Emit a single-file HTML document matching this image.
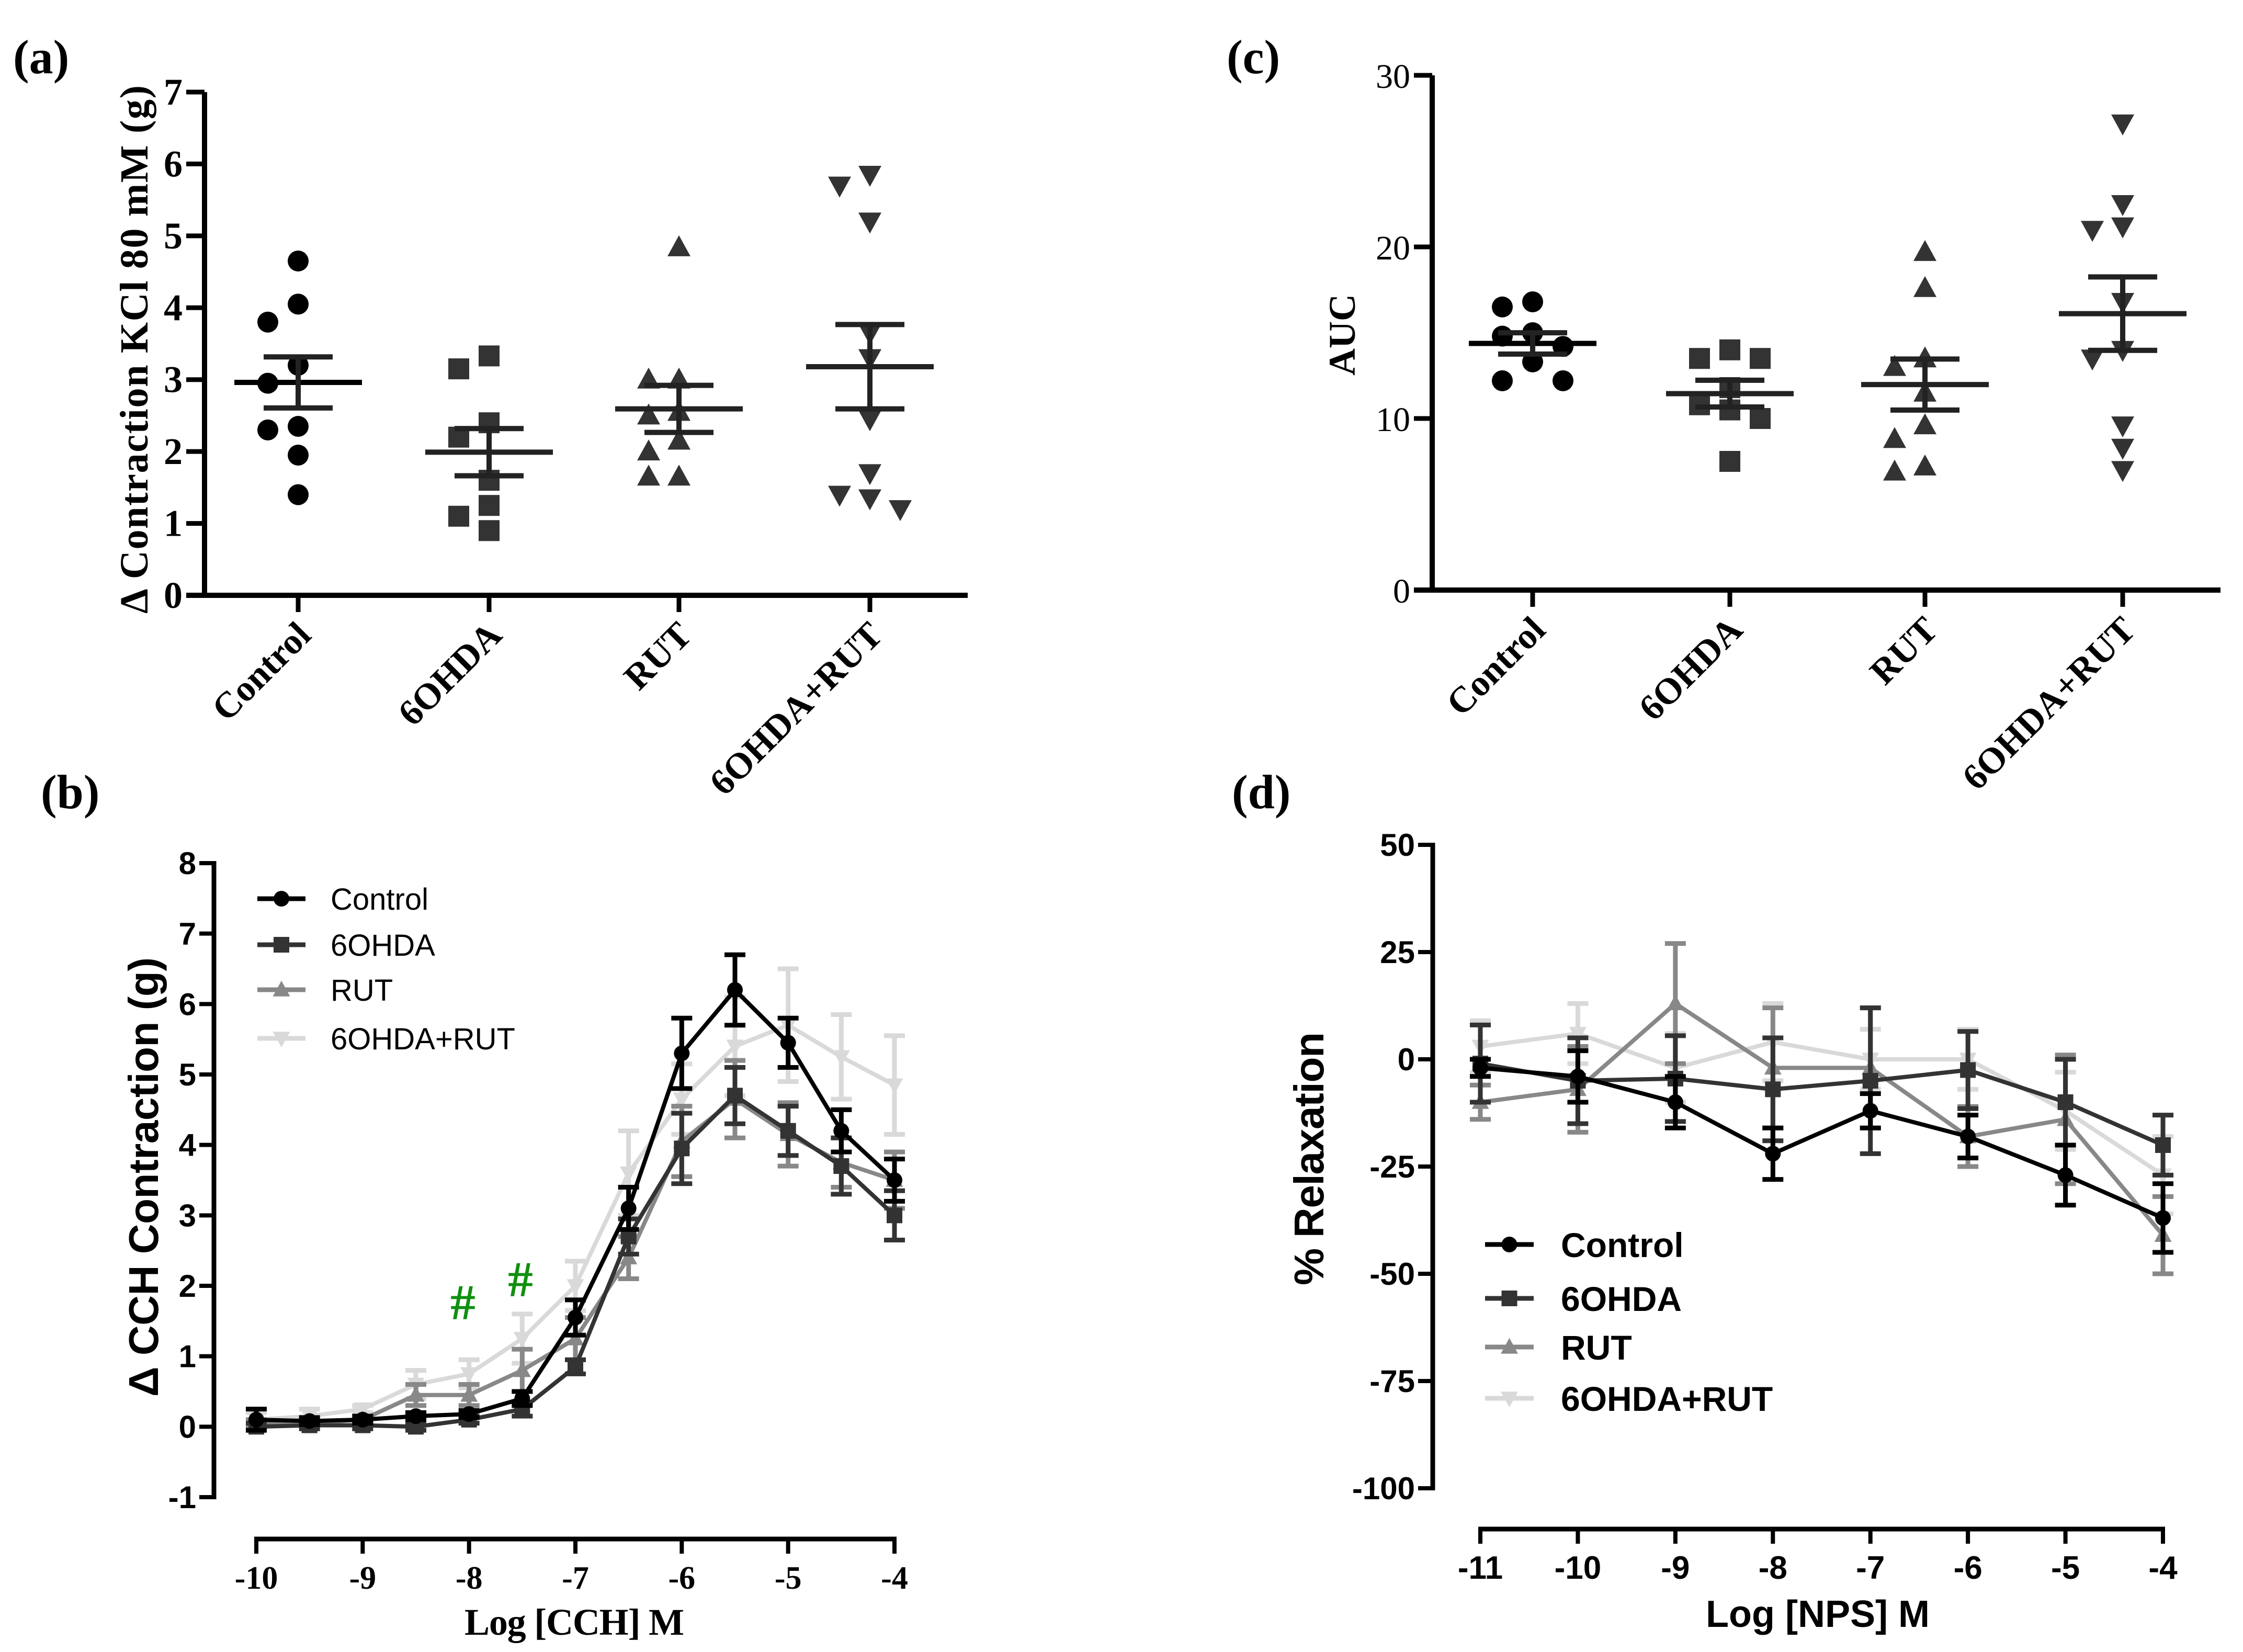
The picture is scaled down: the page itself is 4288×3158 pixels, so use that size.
<!DOCTYPE html>
<html><head><meta charset="utf-8"><style>
html,body{margin:0;padding:0;background:#fff;}
svg{display:block;}
.tb{font-family:"Liberation Serif",serif;font-weight:bold;}
.tr{font-family:"Liberation Serif",serif;}
.ab{font-family:"Liberation Sans",sans-serif;font-weight:bold;}
.ar{font-family:"Liberation Sans",sans-serif;}
</style></head><body>
<svg id="fig" width="4288" height="3158" viewBox="0 0 4288 3158" xmlns="http://www.w3.org/2000/svg">
<rect width="4288" height="3158" fill="#fff"/>
<text class="tb" x="25" y="140" font-size="92">(a)</text>
<text class="tb" x="78" y="1545" font-size="92">(b)</text>
<text class="tb" x="2345" y="140" font-size="92">(c)</text>
<text class="tb" x="2355" y="1545" font-size="92">(d)</text>
<g id="pa"></g>
<g id="pc"></g>
<g id="pb"></g>
<g id="pd"></g>
</svg>
<script>
// ---------- data ----------
const catLabels=["Control","6OHDA","RUT","6OHDA+RUT"];
const kclControl=[4.65,4.05,3.8,3.2,2.95,2.35,2.3,1.95,1.4];
const kcl6OHDA=[3.33,3.15,2.4,2.2,1.6,1.25,1.1,0.9];
const kclRUT=[4.84,3.0,3.0,2.55,2.5,2.15,2.0,1.65,1.65];
const kclCombo=[5.85,5.7,5.2,3.65,3.3,2.45,1.7,1.4,1.35,1.2];
const kclTicks=[0,1,2,3,4,5,6,7];
const aucControl=[16.8,16.5,15.0,14.8,14.2,13.3,12.2,12.2];
const auc6OHDA=[14.0,13.5,13.5,11.8,10.8,10.5,10.0,7.5];
const aucRUT=[19.7,17.6,13.5,13.0,11.5,9.6,8.8,7.2,6.9];
const aucCombo=[27.2,22.5,21.2,21.0,16.8,14.0,13.5,9.6,8.3,7.0];
const aucTicks=[0,10,20,30];
const cchX=[-10,-9.5,-9,-8.5,-8,-7.5,-7,-6.5,-6,-5.5,-5,-4.5,-4];
const cchControl=[0.1,0.08,0.1,0.15,0.18,0.4,1.55,3.1,5.3,6.2,5.45,4.2,3.5];
const cchControlErr=[0.15,0.05,0.05,0.05,0.05,0.1,0.25,0.3,0.5,0.5,0.35,0.3,0.3];
const cch6OHDA=[0,0.02,0.02,0,0.1,0.25,0.85,2.7,3.95,4.7,4.2,3.7,3.0];
const cch6OHDAErr=[0.05,0.05,0.05,0.05,0.05,0.1,0.1,0.25,0.5,0.4,0.35,0.4,0.35];
const cchRUT=[0.05,0.05,0.1,0.45,0.45,0.8,1.25,2.4,4.05,4.65,4.15,3.75,3.5];
const cchRUTErr=[0.05,0.05,0.05,0.15,0.15,0.3,0.3,0.3,0.5,0.55,0.45,0.35,0.4];
const cchCombo=[0.1,0.15,0.25,0.6,0.75,1.25,2.0,3.6,4.65,5.4,5.7,5.25,4.85];
const cchComboErr=[0.1,0.1,0.05,0.2,0.2,0.35,0.35,0.6,0.5,0.7,0.8,0.6,0.7];
const cchYTicks=[-1,0,1,2,3,4,5,6,7,8];
const cchXTicks=[-10,-9,-8,-7,-6,-5,-4];
const npsX=[-11,-10,-9,-8,-7,-6,-5,-4];
const npsControl=[-2,-4,-10,-22,-12,-18,-27,-37];
const npsControlErr=[2,6,6,6,4,5,7,8];
const nps6OHDA=[-1,-5,-4.5,-7,-5,-2.5,-10,-20];
const nps6OHDAErr=[9,10,10,12,17,9,10,7];
const npsRUT=[-10,-7,13,-2,-2,-18,-14,-41];
const npsRUTErr=[4,10,14,14,14,7,15,9];
const npsCombo=[3,6,-2,4,0,0,-12,-27];
const npsComboErr=[6,7,8,9,7,7,9,9];
const npsYTicks=[-100,-75,-50,-25,0,25,50];
const npsXTicks=[-11,-10,-9,-8,-7,-6,-5,-4];

const NS="http://www.w3.org/2000/svg";
function mk(parent,tag,attrs){const e=document.createElementNS(NS,tag);for(const k in attrs)e.setAttribute(k,attrs[k]);parent.appendChild(e);return e;}
function marker(parent,shape,cx,cy,s,color){
  let e;
  if(shape==="circle") e=mk(parent,"circle",{cx:cx,cy:cy,r:s,fill:color});
  else if(shape==="square") e=mk(parent,"rect",{x:cx-s,y:cy-s,width:2*s,height:2*s,fill:color});
  else if(shape==="up") e=mk(parent,"polygon",{points:`${cx},${cy-s*1.15} ${cx-s*1.1},${cy+s*0.85} ${cx+s*1.1},${cy+s*0.85}`,fill:color});
  else e=mk(parent,"polygon",{points:`${cx},${cy+s*1.15} ${cx-s*1.1},${cy-s*0.85} ${cx+s*1.1},${cy-s*0.85}`,fill:color});
  return e;
}
function mean(a){return a.reduce((p,c)=>p+c,0)/a.length;}
function sem(a){const m=mean(a);const v=a.reduce((p,c)=>p+(c-m)*(c-m),0)/(a.length-1);return Math.sqrt(v/a.length);}

// ---------- scatter panels ----------
function scatterPanel(g,cfg){
  const yS=v=>cfg.y0-(v-cfg.ymin)*(cfg.y0-cfg.ytop)/(cfg.ymax-cfg.ymin);
  const yAxis=mk(g,"line",{x1:cfg.ax,y1:cfg.ytop,x2:cfg.ax,y2:cfg.y0+5,stroke:"#000","stroke-width":10});
  
  
  const xAxis=mk(g,"line",{x1:cfg.ax-35,y1:cfg.y0,x2:cfg.axEnd,y2:cfg.y0,stroke:"#000","stroke-width":10});
  
  
  cfg.ticks.forEach(t=>{
    const tk=mk(g,"line",{x1:cfg.ax-35,y1:yS(t),x2:cfg.ax,y2:yS(t),stroke:"#000","stroke-width":9});
    
    
    const tl=mk(g,"text",{x:cfg.ax-42,y:yS(t)+24,"text-anchor":"end","font-size":cfg.tickFs,class:cfg.tickClass});
    tl.textContent=t;
    
    
  });
  const yt=mk(g,"text",{x:0,y:0,"text-anchor":"middle","font-size":cfg.titleFs,class:"tb",transform:`translate(${cfg.titleX},${cfg.titleY}) rotate(-90)`});
  if(cfg.titleLen) yt.setAttribute("textLength",cfg.titleLen);
  yt.textContent=cfg.title;
  
  
  const shapes=["circle","square","up","down"];
  const colors=["#000","#333","#333","#333"];
  cfg.groups.forEach((data,i)=>{
    const cx=cfg.cats[i];
    const tk=mk(g,"line",{x1:cx,y1:cfg.y0,x2:cx,y2:cfg.y0+32,stroke:"#000","stroke-width":9});
    
    
    const cl=mk(g,"text",{x:0,y:0,"text-anchor":"end","font-size":cfg.catFs,class:"tb",transform:`translate(${cx+28},${cfg.y0+80}) rotate(-45)`});
    cl.textContent=catLabels[i];
    
    
    const placed=[];const step=58;
    const sorted=data.map((v,k)=>({v:v,k:k})).sort((a,b)=>b.v-a.v);
    sorted.forEach(p=>{
      const py=yS(p.v);
      const cand=[0,-1,1,-2,2,-3,3];
      let off=0;
      for(const c of cand){const px=cx+c*step;
        if(placed.every(q=>Math.hypot(q.x-px,q.y-py)>=42)){off=c;break;}}
      const px=cx+off*step;
      placed.push({x:px,y:py});
      const m=marker(g,shapes[i],px,py,20,colors[i]);
      
      
    });
    const m=mean(data),s=sem(data);
    const ml=mk(g,"line",{x1:cx-122,y1:yS(m),x2:cx+122,y2:yS(m),stroke:colors[i]==="#000"?"#000":"#222","stroke-width":10});
    
    
    const wl=mk(g,"line",{x1:cx,y1:yS(m+s),x2:cx,y2:yS(m-s),stroke:"#222","stroke-width":10});
    
    
    [m+s,m-s].forEach(v=>{
      const cp=mk(g,"line",{x1:cx-66,y1:yS(v),x2:cx+66,y2:yS(v),stroke:"#222","stroke-width":10});
      
      
    });
  });
}
scatterPanel(document.getElementById("pa"),{ax:391,axEnd:1850,y0:1138,ytop:176,ymin:0,ymax:7,ticks:kclTicks,tickFs:72,tickClass:"tb",
  title:"\u0394 Contraction KCl 80 mM (g)",titleX:282,titleY:668,titleFs:76,titleLen:1010,
  cats:[570,935,1298,1663],groups:[kclControl,kcl6OHDA,kclRUT,kclCombo],catFs:70});
scatterPanel(document.getElementById("pc"),{ax:2738,axEnd:4245,y0:1128,ytop:144,ymin:0,ymax:30,ticks:aucTicks,tickFs:66,tickClass:"tr",
  title:"AUC",titleX:2590,titleY:640,titleFs:72,titleLen:0,
  cats:[2930,3307,3680,4058],groups:[aucControl,auc6OHDA,aucRUT,aucCombo],catFs:70});

// ---------- curve panels ----------
function curvePanel(g,cfg){
  const xS=v=>cfg.x0+(v-cfg.xmin)*(cfg.x1-cfg.x0)/(cfg.xmax-cfg.xmin);
  const yS=v=>cfg.yb-(v-cfg.ymin)*(cfg.yb-cfg.yt)/(cfg.ymax-cfg.ymin);
  const ya=mk(g,"line",{x1:cfg.ax,y1:cfg.yt-4,x2:cfg.ax,y2:cfg.yb+4,stroke:"#000","stroke-width":9});
  
  
  cfg.yTicks.forEach(t=>{
    const tk=mk(g,"line",{x1:cfg.ax-28,y1:yS(t),x2:cfg.ax,y2:yS(t),stroke:"#000","stroke-width":8});
    
    
    const tl=mk(g,"text",{x:cfg.ax-34,y:yS(t)+21,"text-anchor":"end","font-size":60,class:"ab"});
    tl.textContent=t;
    
    
  });
  const xa=mk(g,"line",{x1:cfg.x0-4,y1:cfg.xaY,x2:cfg.x1+4,y2:cfg.xaY,stroke:"#000","stroke-width":9});
  
  
  cfg.xTicks.forEach(t=>{
    const tk=mk(g,"line",{x1:xS(t),y1:cfg.xaY-4,x2:xS(t),y2:cfg.xaY+28,stroke:"#000","stroke-width":8});
    
    
    const tl=mk(g,"text",{x:xS(t),y:cfg.xaY+95,"text-anchor":"middle","font-size":62,class:cfg.xTickClass});
    tl.textContent=t;
    
    
  });
  const xt=mk(g,"text",{x:cfg.xtX,y:cfg.xtY,"text-anchor":"middle","font-size":72,class:cfg.xTickClass,textLength:cfg.xtLen});
  xt.textContent=cfg.xTitle;
  
  
  const yt=mk(g,"text",{x:0,y:0,"text-anchor":"middle","font-size":80,class:"ab",textLength:cfg.ytLen,transform:`translate(${cfg.ytX},${cfg.ytY}) rotate(-90)`});
  yt.textContent=cfg.yTitle;
  
  
  const shapes=["circle","square","up","down"];
  const cols=["#000","#333","#888","#d9d9d9"];
  const names=["Control","6OHDA","RUT","6OHDA+RUT"];
  const order=[3,2,1,0];
  order.forEach(i=>{
    const ys=cfg.series[i],es=cfg.errs[i];
    const sg=mk(g,"g",{});
    
    
    cfg.xs.forEach((x,k)=>{
      const px=xS(x);
      const eb=mk(sg,"path",{d:`M${px},${yS(ys[k]+es[k])}V${yS(ys[k]-es[k])}M${px-20},${yS(ys[k]+es[k])}H${px+20}M${px-20},${yS(ys[k]-es[k])}H${px+20}`,stroke:cols[i],"stroke-width":9,fill:"none"});
      
      
    });
    const pts=cfg.xs.map((x,k)=>`${xS(x)},${yS(ys[k])}`).join(" ");
    const ln=mk(sg,"polyline",{points:pts,fill:"none",stroke:cols[i],"stroke-width":8});
    
    
    cfg.xs.forEach((x,k)=>{
      const m=marker(sg,shapes[i],xS(x),yS(ys[k]),cfg.ms,cols[i]);
      
      
    });
  });
  names.forEach((n,i)=>{
    const ly=cfg.legY[i];
    const lg=mk(g,"g",{});
    
    
    mk(lg,"line",{x1:cfg.legX,y1:ly,x2:cfg.legX+cfg.legW,y2:ly,stroke:cols[i],"stroke-width":9});
    marker(lg,shapes[i],cfg.legX+cfg.legW/2,ly,cfg.ms,cols[i]);
    const tx=mk(lg,"text",{x:cfg.legTX,y:ly+cfg.legFs*0.36,"font-size":cfg.legFs,class:cfg.legClass});
    tx.textContent=n;
  });
}
curvePanel(document.getElementById("pb"),{x0:490,x1:1710,xmin:-10,xmax:-4,ax:409,yt:1650,yb:2862,ymin:-1,ymax:8,xaY:2942,
  yTicks:cchYTicks,xTicks:cchXTicks,xTickClass:"tb",xTitle:"Log [CCH] M",xtX:1098,xtY:3125,xtLen:420,
  yTitle:"\u0394 CCH Contraction (g)",ytX:302,ytY:2250,ytLen:840,
  xs:cchX,series:[cchControl,cch6OHDA,cchRUT,cchCombo],errs:[cchControlErr,cch6OHDAErr,cchRUTErr,cchComboErr],ms:15,
  legX:492,legW:92,legY:[1718,1806,1892,1985],legTX:632,legFs:58,legClass:"ar"});
curvePanel(document.getElementById("pd"),{x0:2830,x1:4135,xmin:-11,xmax:-4,ax:2739,yt:1615,yb:2845,ymin:-100,ymax:50,xaY:2923,
  yTicks:npsYTicks,xTicks:npsXTicks,xTickClass:"ab",xTitle:"Log [NPS] M",xtX:3475,xtY:3110,xtLen:428,
  yTitle:"% Relaxation",ytX:2530,ytY:2215,ytLen:484,
  xs:npsX,series:[npsControl,nps6OHDA,npsRUT,npsCombo],errs:[npsControlErr,nps6OHDAErr,npsRUTErr,npsComboErr],ms:15,
  legX:2839,legW:93,legY:[2379,2482,2575,2673],legTX:2984,legFs:66,legClass:"ab"});
const pb=document.getElementById("pb");
[[885,2522],[995,2478]].forEach(p=>{
  const h=mk(pb,"text",{x:p[0],y:p[1],"text-anchor":"middle","font-size":96,fill:"#109010",class:"tb"});
  h.textContent="#";
  
  
});
</script>
</body></html>
